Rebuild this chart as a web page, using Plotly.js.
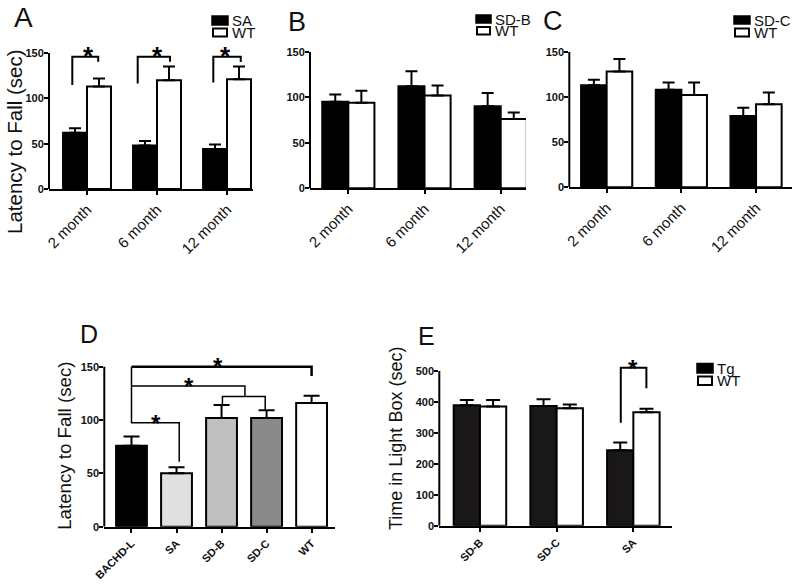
<!DOCTYPE html>
<html><head><meta charset="utf-8">
<script src="https://cdn.plot.ly/plotly-3.0.1.min.js"></script>
<style>html,body{margin:0;padding:0;background:#fff}</style>
</head><body><div id="chart" style="width:800px;height:587px"></div>
<script>
// ---------- data ----------
const monthLabels = ['2 month', '6 month', '12 month'];
const aSA = [62, 48, 44];      const aSAErr = [5, 5, 5];
const aWT = [113, 120, 121];   const aWTErr = [9, 15, 14];
const bSDB = [95, 112, 90];    const bSDBErr = [8, 16.5, 14.6];
const bWT = [94, 102, 76];     const bWTErr = [13, 11, 7.3];
const cSDC = [113, 108, 79];   const cSDCErr = [6, 8, 9];
const cWT = [128, 102, 92];    const cWTErr = [14, 14, 13];
const dGroups = ['BACHD-L', 'SA', 'SD-B', 'SD-C', 'WT'];
const dVals = [76, 50, 102, 102, 116];
const dErr = [8.5, 5.7, 12.2, 7.2, 6.8];
const eGroups = ['SD-B', 'SD-C', 'SA'];
const eTg = [389, 387, 244];   const eTgErr = [17, 22, 25];
const eWT = [385, 380, 367];   const eWTErr = [21, 12, 11];
const latencyTicks = [0, 50, 100, 150];
const lightTicks = [0, 100, 200, 300, 400, 500];

// ---------- helpers ----------
const W = 800, H = 587;
const PX = v => v / W, PY = v => 1 - v / H;
const FONT = 'Arial, "Liberation Sans", sans-serif';
const zeros = n => new Array(n).fill(0);
function errY(arr, w) {
  return {type: 'data', array: arr, arrayminus: zeros(arr.length), symmetric: false,
          visible: true, color: '#000', thickness: 2, width: w};
}
function bar(x, y, err, fill, xa, ya, w) {
  return {type: 'bar', x: x, y: y, xaxis: xa, yaxis: ya, showlegend: false,
          marker: {color: fill, line: {color: '#000', width: 2}},
          error_y: errY(err, w), hoverinfo: 'skip'};
}
function xaxis(dom, rng, anchor, font, angle) {
  return {domain: dom, range: rng, type: 'category', anchor: anchor,
          showline: true, linewidth: 2, linecolor: '#000', mirror: false,
          ticks: 'outside', ticklen: 4, tickwidth: 2, tickcolor: '#000',
          tickangle: angle, tickfont: font, showgrid: false, zeroline: false, fixedrange: true};
}
function yaxis(dom, ymax, tv, anchor) {
  return {domain: dom, range: [0, ymax], anchor: anchor, showline: false,
          tickvals: tv, ticktext: tv.map(String), ticks: 'outside', ticklen: 4, tickwidth: 2, tickcolor: '#000',
          ticklabelstandoff: -2,
          tickfont: {family: FONT, size: 11, color: '#111', weight: 'bold'},
          showgrid: false, zeroline: false, fixedrange: true};
}
const monthFont = {family: FONT, size: 15, color: '#111'};
const boldTickFont = {family: FONT, size: 11, color: '#111', weight: 'bold'};

// ---------- traces ----------
const data = [
  bar(monthLabels, aSA, aSAErr, '#000', 'x', 'y', 6),
  bar(monthLabels, aWT, aWTErr, '#fff', 'x', 'y', 6),
  bar(monthLabels, bSDB, bSDBErr, '#000', 'x2', 'y2', 6),
  bar(monthLabels, bWT, bWTErr, '#fff', 'x2', 'y2', 6),
  bar(monthLabels, cSDC, cSDCErr, '#000', 'x3', 'y3', 6),
  bar(monthLabels, cWT, cWTErr, '#fff', 'x3', 'y3', 6),
  bar(dGroups, dVals, dErr, ['#000', '#e0e0e0', '#c0c0c0', '#8a8a8a', '#fff'], 'x4', 'y4', 8),
  bar(eGroups, eTg, eTgErr, '#1a1718', 'x5', 'y5', 7),
  bar(eGroups, eWT, eWTErr, '#fff', 'x5', 'y5', 7)
];

// ---------- layout geometry (pixels) ----------
function ydom(zeroPx, topValPx, topVal, maxVal) {
  const k = (zeroPx - topValPx) / topVal;
  return [PY(zeroPx), PY(zeroPx - maxVal * k)];
}
const layout = {
  width: W, height: H, margin: {l: 0, r: 0, t: 0, b: 0},
  paper_bgcolor: '#fff', plot_bgcolor: 'rgba(0,0,0,0)',
  barmode: 'group', bargap: 0.315, bargroupgap: 0,
  font: {family: FONT, color: '#111'},
  xaxis:  xaxis([PX(49), PX(253)], [-0.543, 2.371], 'y', monthFont, -45),
  yaxis:  yaxis(ydom(189, 53, 150, 158), 158, latencyTicks, 'x'),
  xaxis2: xaxis([PX(310), PX(526)], [-0.503, 2.332], 'y2', monthFont, -45),
  yaxis2: yaxis(ydom(188.3, 51.7, 150, 150), 150, latencyTicks, 'x2'),
  xaxis3: xaxis([PX(569.3), PX(791.7)], [-0.5, 2.477], 'y3', monthFont, -45),
  yaxis3: yaxis(ydom(187.3, 51.7, 150, 150), 150, latencyTicks, 'x3'),
  xaxis4: xaxis([PX(104.3), PX(335)], [-0.604, 4.52], 'y4', boldTickFont, -45),
  yaxis4: yaxis(ydom(526.7, 366.7, 150, 158), 158, latencyTicks, 'x4'),
  xaxis5: xaxis([PX(439.3), PX(671.7)], [-0.53, 2.5], 'y5', boldTickFont, -45),
  yaxis5: yaxis(ydom(525.7, 371, 500, 535), 535, lightTicks, 'x5'),
  shapes: [], annotations: []
};

const S = layout.shapes, A = layout.annotations;
// y axis lines up to top tick
[['x', 'y', 150], ['x2', 'y2', 150], ['x3', 'y3', 150], ['x4', 'y4', 150], ['x5', 'y5', 500]].forEach(([xa, ya, top]) => {
  S.push({type: 'line', xref: xa + ' domain', yref: ya, x0: 0, x1: 0, y0: 0, y1: top,
          line: {color: '#000', width: 2}});
});

// significance brackets (x in category units, y in data units)
function poly(xa, ya, w, pts) {
  const d = 'M' + pts.map(p => p[0] + ',' + p[1]).join(' L');
  S.push({type: 'path', xref: xa, yref: ya, path: d, line: {color: '#000', width: w}});
}
const aBrk = [[-0.21, 114.7, 0.16, 140.3, 146], [0.724, 116.5, 1.186, 140.3, 146], [1.804, 117.6, 2.196, 140, 146]];
aBrk.forEach(b => poly('x', 'y', 2, [[b[0], b[1]], [b[0], b[4]], [b[2], b[4]], [b[2], b[3]]]));
poly('x4', 'y4', 2.5, [[0, 150], [4.0, 150], [4.0, 141.3]]);
poly('x4', 'y4', 1.5, [[0, 150], [0, 97]]);
poly('x4', 'y4', 1.5, [[0, 131.9], [2.52, 131.9], [2.52, 122]]);
poly('x4', 'y4', 1.5, [[2.02, 114], [2.02, 122], [2.97, 122], [2.97, 109]]);
poly('x4', 'y4', 1.5, [[0, 97.5], [1.06, 97.5], [1.06, 60.9]]);
poly('x5', 'y5', 2, [[1.836, 333], [1.836, 510.7], [2.17, 510.7], [2.17, 444]]);

// stars
function star(xa, ya, x, y, size) {
  A.push({xref: xa, yref: ya, x: x, y: y, text: '*', showarrow: false, xanchor: 'center', yanchor: 'middle',
          yshift: -0.27 * size, font: {family: FONT, size: size, color: '#000', weight: 'bold'}});
}
star('x', 'y', 0.02, 154, 26); star('x', 'y', 1.0, 154, 26); star('x', 'y', 1.98, 154, 26);
star('x4', 'y4', 1.93, 156, 24); star('x4', 'y4', 1.28, 137.5, 24); star('x4', 'y4', 0.54, 103, 24);
star('x5', 'y5', 2.0, 530, 24);

// free text
function txt(x, y, t, size, opts) {
  A.push(Object.assign({xref: 'paper', yref: 'paper', x: PX(x), y: PY(y), text: t, showarrow: false,
          xanchor: 'center', yanchor: 'middle', font: {family: FONT, size: size, color: '#111'}}, opts || {}));
}
txt(23, 17.5, 'A', 28); txt(297, 22.5, 'B', 27); txt(552.7, 21, 'C', 27);
txt(89, 334, 'D', 25); txt(427, 336.5, 'E', 25);

txt(14.5, 141.5, 'Latency to Fall (sec)', 20.5, {textangle: -90});
txt(65, 445.8, 'Latency to Fall (sec)', 18.7, {textangle: -90});
txt(396.7, 438.3, 'Time in Light Box (sec)', 18, {textangle: -90});

// custom legends
function legend(x0, x1, yTop, yBot, labels) {
  S.push({type: 'rect', xref: 'paper', yref: 'paper', x0: PX(x0), x1: PX(x1), y0: PY(yTop[1]), y1: PY(yTop[0]),
          fillcolor: '#000', line: {color: '#000', width: 1.5}});
  S.push({type: 'rect', xref: 'paper', yref: 'paper', x0: PX(x0 + 1), x1: PX(x1 - 1), y0: PY(yBot[1]), y1: PY(yBot[0]),
          fillcolor: '#fff', line: {color: '#000', width: 2}});
  txt(x1 + 2, (yTop[0] + yTop[1]) / 2, labels[0], 15, {xanchor: 'left'});
  txt(x1 + 2, (yBot[0] + yBot[1]) / 2, labels[1], 15, {xanchor: 'left'});
}
legend(212, 228, [16, 25], [28.5, 36.5], ['SA', 'WT']);
legend(476, 491, [15, 23], [27, 34.5], ['SD-B', 'WT']);
legend(734, 750, [16, 24], [28.5, 36.5], ['SD-C', 'WT']);
legend(697, 713, [363.5, 373], [376.5, 385], ['Tg', 'WT']);

Plotly.newPlot('chart', data, layout, {staticPlot: true, displayModeBar: false});
</script></body></html>
